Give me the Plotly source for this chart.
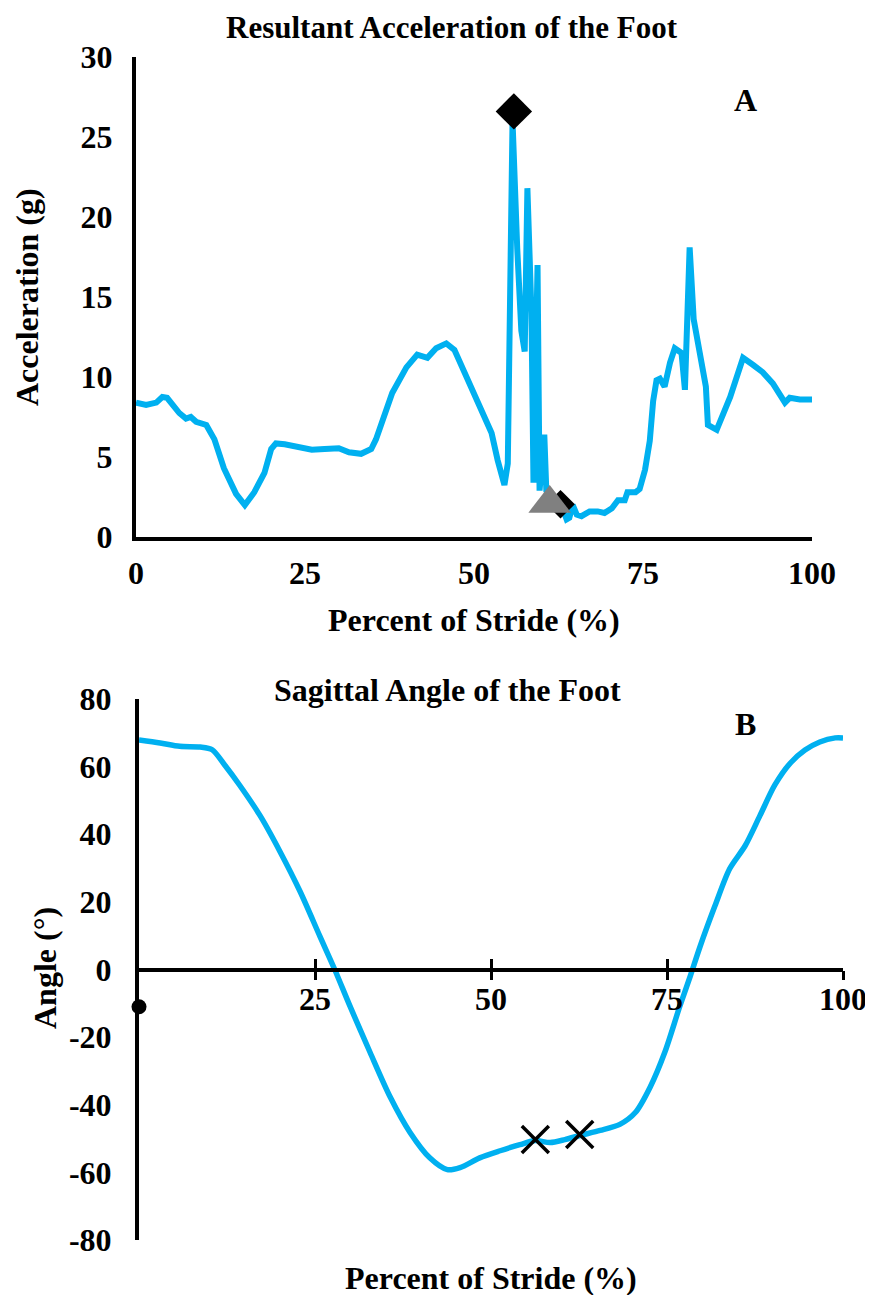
import plotly.graph_objects as go

# ---------------- data: panel A (resultant acceleration) ----------------
a_pct = [0, 1.5, 3.0, 3.9, 4.6, 6.4, 7.4, 8.1, 8.9, 10.4,
         11.6, 13.0, 14.8, 16.1, 17.5, 19.0, 20.0, 20.7, 22.0, 24.0,
         26.0, 27.9, 30.0, 31.5, 33.3, 34.8, 35.5, 37.9, 40.0, 41.6,
         43.1, 44.4, 45.9, 47.1, 48.9, 51.3, 52.6, 53.5, 54.5, 55.0,
         55.7, 56.4, 57.0, 57.5, 57.9, 58.5, 58.8, 59.1, 59.4, 59.7,
         60.1, 60.4, 60.7, 61.9, 63.0, 63.7, 64.1, 64.6, 65.2, 65.9,
         67.1, 68.3, 69.3, 70.4, 71.3, 72.3, 72.7, 73.9, 74.5, 75.3,
         76.0, 76.5, 77.0, 77.5, 78.2, 79.0, 79.7, 80.7, 81.2, 81.9,
         82.5, 83.4, 84.3, 84.6, 85.9, 87.9, 89.8, 91.3, 92.7, 94.2,
         96.0, 96.7, 98.2, 100]
a_g = [8.4, 8.25, 8.4, 8.75, 8.7, 7.75, 7.4, 7.5, 7.2, 7.0,
       6.1, 4.3, 2.7, 2.0, 2.8, 4.0, 5.5, 5.85, 5.8, 5.65,
       5.45, 5.5, 5.55, 5.3, 5.2, 5.5, 6.1, 9.0, 10.6, 11.4,
       11.2, 11.8, 12.1, 11.7, 10.0, 7.9, 6.5, 4.8, 3.25, 4.6,
       26.0, 18.0, 12.9, 11.6, 21.8, 14.0, 3.4, 10.0, 17.0, 2.9,
       5.0, 6.4, 2.9, 2.4, 1.9, 1.1, 1.2, 2.0, 1.4, 1.3,
       1.6, 1.6, 1.5, 1.8, 2.3, 2.3, 2.8, 2.8, 3.0, 4.2,
       6.0, 8.5, 9.8, 9.9, 9.4, 10.9, 11.8, 11.5, 9.2, 18.1,
       13.6, 11.5, 9.4, 7.0, 6.7, 8.75, 11.2, 10.75, 10.3, 9.6,
       8.4, 8.7, 8.6, 8.6]

a_peak_pct = [55.9]
a_peak_g = [26.6]
a_diam_pct = [62.8]
a_diam_g = [2.05]
a_tri_pct = [61.2]
a_tri_g = [2.1]

a_xticks = [0, 25, 50, 75, 100]
a_yticks = [0, 5, 10, 15, 20, 25, 30]

# ---------------- data: panel B (sagittal angle) ----------------
b_pct = [0, 3, 5.8, 8.7, 10.4, 12.2, 14.3, 17.2, 20, 22.9,
         25.7, 27.8, 30, 32.8, 35.7, 38.5, 41.3, 43.8, 45.6, 48.4,
         51.3, 54.1, 56.3, 58.4, 60.5, 62.6, 65.5, 68.3, 70.5, 72.6,
         74.7, 76.8, 78.3, 79.7, 81.8, 83.9, 86.1, 88.2, 90.3, 92.5,
         94.6, 96.7, 98.9, 100]
b_deg = [67.9, 67, 66, 65.8, 65, 60.4, 54.5, 45.5, 35, 23,
         9.8, 0, -11, -24.4, -37.8, -48.2, -55.7, -59.2, -58.6, -55.7,
         -53.6, -51.8, -50.6, -51.2, -50.3, -49.1, -47.6, -45.8, -42.3, -34.8,
         -24.4, -11, -2, 6.8, 18.75, 29.8, 36.6, 45.5, 54.5, 61,
         64.9, 67.3, 68.5, 68.5]

b_cross_pct = [56.3, 62.6]
b_cross_deg = [-50.3, -48.8]
b_oval_pct = [0]
b_oval_deg = [-11]

b_xticks = [25, 50, 75, 100]
b_yticks = [-80, -60, -40, -20, 0, 20, 40, 60, 80]
b_yticktext = [str(v) for v in b_yticks]

# ---------------- layout helpers ----------------
OFF = 8                      # page body margin of the html output
W, H = 873 - OFF, 1295 - OFF
FONT = "Liberation Serif"
BLUE = "#00B0F0"


def fx(px):
    return (px - OFF) / W


def fy(py):
    return 1 - (py - OFF) / H


def bold(size):
    return dict(family=FONT, size=size, color="black", weight="bold")


fig = go.Figure()

# Panel A
fig.add_trace(go.Scatter(x=a_pct, y=a_g, mode="lines",
                         line=dict(color=BLUE, width=6),
                         xaxis="x", yaxis="y", showlegend=False))
fig.add_trace(go.Scatter(x=a_diam_pct, y=a_diam_g, mode="markers",
                         marker=dict(symbol="diamond", size=22, color="black"),
                         xaxis="x", yaxis="y", showlegend=False, cliponaxis=False))
fig.add_trace(go.Scatter(x=a_tri_pct, y=a_tri_g, mode="markers",
                         marker=dict(symbol="triangle-up", size=37, color="#808080"),
                         xaxis="x", yaxis="y", showlegend=False, cliponaxis=False))
fig.add_trace(go.Scatter(x=a_peak_pct, y=a_peak_g, mode="markers",
                         marker=dict(symbol="diamond", size=28, color="black"),
                         xaxis="x", yaxis="y", showlegend=False, cliponaxis=False))

# Panel B
fig.add_trace(go.Scatter(x=b_pct, y=b_deg, mode="lines",
                         line=dict(color=BLUE, width=5.5, shape="spline", smoothing=0.8),
                         xaxis="x2", yaxis="y2", showlegend=False))
fig.add_trace(go.Scatter(x=b_cross_pct, y=b_cross_deg, mode="markers",
                         marker=dict(symbol="x-thin", size=27, color="black",
                                     line=dict(color="black", width=3.5)),
                         xaxis="x2", yaxis="y2", showlegend=False, cliponaxis=False))
fig.add_trace(go.Scatter(x=b_oval_pct, y=b_oval_deg, mode="markers",
                         marker=dict(symbol="circle", size=15, color="black"),
                         xaxis="x2", yaxis="y2", showlegend=False, cliponaxis=False))
# invisible trace so the overlay tick axis is drawn
fig.add_trace(go.Scatter(x=b_pct, y=b_deg, mode="lines", opacity=0,
                         line=dict(width=0), hoverinfo="skip",
                         xaxis="x3", yaxis="y2", showlegend=False))

a_dom_y = [fy(537), fy(57)]
b_dom_y = [fy(1240), fy(699)]
b_zero_pos = b_dom_y[0] + (0 - b_yticks[0]) / (b_yticks[-1] - b_yticks[0]) * (b_dom_y[1] - b_dom_y[0])

TICK = 32

fig.update_layout(
    width=W, height=H,
    margin=dict(l=0, r=0, t=0, b=0, autoexpand=False),
    paper_bgcolor="white", plot_bgcolor="white",
    showlegend=False,
    xaxis=dict(domain=[fx(136), fx(812)], range=[0, 100], anchor="y",
               tickvals=a_xticks, ticks="", showgrid=False, zeroline=False,
               showline=True, linecolor="black", linewidth=4, automargin=False,
               tickfont=bold(TICK), ticklabelstandoff=5),
    yaxis=dict(domain=a_dom_y, range=[0, 30], anchor="x",
               tickvals=a_yticks, ticks="", showgrid=False, zeroline=False,
               showline=True, linecolor="black", linewidth=4, automargin=False,
               tickfont=bold(TICK), ticklabelstandoff=13),
    xaxis2=dict(domain=[fx(139), fx(843)], range=[0, 100], anchor="free",
                position=b_zero_pos, automargin=False,
                tickvals=b_xticks, ticks="inside", ticklen=9, tickwidth=3,
                tickcolor="black", showgrid=False, zeroline=False,
                showline=True, linecolor="black", linewidth=4,
                tickfont=bold(TICK), ticklabelstandoff=0),
    xaxis3=dict(domain=[fx(139), fx(843)], range=[0, 100], anchor="free",
                position=b_zero_pos, overlaying="x2", automargin=False,
                tickvals=b_xticks, ticks="outside", ticklen=9, tickwidth=3,
                tickcolor="black", showticklabels=False, showgrid=False,
                zeroline=False, showline=False),
    yaxis2=dict(domain=b_dom_y, range=[-80, 80], anchor="x2", automargin=False,
                tickvals=b_yticks, ticktext=b_yticktext, ticks="",
                showgrid=False, zeroline=False,
                showline=True, linecolor="black", linewidth=4,
                tickfont=bold(TICK), ticklabelstandoff=17),
)

annotations = [
    dict(text="Resultant Acceleration of the Foot", x=fx(452), y=fy(8), font=bold(31),
         yanchor="top"),
    dict(text="A", x=fx(745), y=fy(100), font=bold(32)),
    dict(text="Percent of Stride (%)", x=fx(474), y=fy(620), font=bold(32)),
    dict(text="Acceleration (g)", x=fx(27), y=fy(297), font=bold(32), textangle=-90),
    dict(text="Sagittal Angle of the Foot", x=fx(447), y=fy(690), font=bold(32)),
    dict(text="B", x=fx(745), y=fy(724), font=bold(32)),
    dict(text="Angle (°)", x=fx(45), y=fy(968), font=bold(32), textangle=-90),
    dict(text="Percent of Stride (%)", x=fx(491), y=fy(1278), font=bold(32)),
]
for a in annotations:
    a.setdefault("yanchor", "middle")
    a.update(xref="paper", yref="paper", xanchor="center", showarrow=False)
fig.update_layout(annotations=annotations)

fig.write_html("out.html")
